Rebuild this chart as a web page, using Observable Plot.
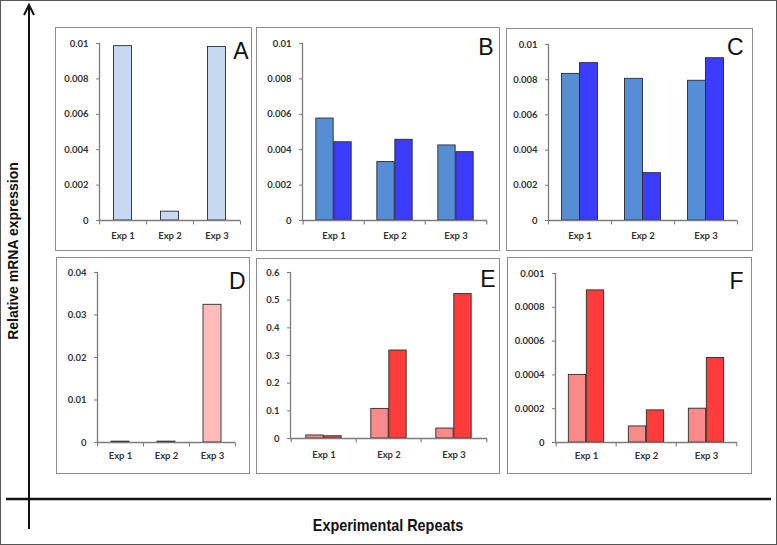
<!DOCTYPE html>
<html>
<head>
<meta charset="utf-8">
<script src="https://cdn.jsdelivr.net/npm/d3@7"></script>
<script src="https://cdn.jsdelivr.net/npm/@observablehq/plot@0.6"></script>
<style>
  html, body { margin: 0; padding: 0; background: #fff; }
  #page { position: relative; width: 777px; height: 545px; box-sizing: border-box; border: 1px solid #555; background: #fff; overflow: hidden; }
  .panel { position: absolute; }
  .panel svg { display: block; }
  g[aria-label="y-axis tick label"], g[aria-label="x-axis tick label"] { fill: #333; }
</style>
</head>
<body>
<div id="page"></div>
<script>
// ---------- data ----------
const exps = ["Exp 1", "Exp 2", "Exp 3"];

const aValues   = [0.00985, 0.0005, 0.0098];
const bSeries1  = [0.00576, 0.0033, 0.00424];
const bSeries2  = [0.00442, 0.00456, 0.00386];
const cSeries1  = [0.00833, 0.00805, 0.00794];
const cSeries2  = [0.00894, 0.00269, 0.00922];
const dValues   = [0.0002, 0.0002, 0.0324];
const eSeries1  = [0.011, 0.107, 0.036];
const eSeries2  = [0.008, 0.318, 0.522];
const fSeries1  = [0.0004, 0.000095, 0.0002];
const fSeries2  = [0.0009, 0.00019, 0.0005];

const ticksBlue = [0, 0.002, 0.004, 0.006, 0.008, 0.01];
const ticksD    = [0, 0.01, 0.02, 0.03, 0.04];
const ticksE    = [0, 0.1, 0.2, 0.3, 0.4, 0.5, 0.6];
const ticksF    = [0, 0.0002, 0.0004, 0.0006, 0.0008, 0.001];

const panelLetters = ["A", "B", "C", "D", "E", "F"];
const yTitle = "Relative mRNA expression";
const xTitle = "Experimental Repeats";

// ---------- colours ----------
const lightBlue = "#c6d9f1", steelBlue = "#558ed5", brightBlue = "#3c3cff";
const pink = "#ffbcbc", salmon = "#fb8a8a", red = "#ff3c3c";

// ---------- layout ----------
const panels = [
  {letter: panelLetters[0], box: {x: 56, y: 28, w: 195, h: 222}, m: {l: 43, r: 11, t: 15, b: 30}, max: 0.01, ticks: ticksBlue,
   series: [{values: aValues, fill: lightBlue}], pad: 12, ldx: 8, ldy: -1},
  {letter: panelLetters[1], box: {x: 257, y: 28, w: 242, h: 222}, m: {l: 45, r: 12, t: 15, b: 30}, max: 0.01, ticks: ticksBlue,
   series: [{values: bSeries1, fill: steelBlue}, {values: bSeries2, fill: brightBlue}], pad: 12, ldx: 6, ldy: -5},
  {letter: panelLetters[2], box: {x: 507, y: 29, w: 245, h: 221}, m: {l: 41, r: 15, t: 15, b: 30}, max: 0.01, ticks: ticksBlue,
   series: [{values: cSeries1, fill: steelBlue}, {values: cSeries2, fill: brightBlue}], pad: 12, ldx: 6, ldy: -6},
  {letter: panelLetters[3], box: {x: 57, y: 258, w: 192, h: 215}, m: {l: 40, r: 14, t: 14, b: 31}, max: 0.04, ticks: ticksD,
   series: [{values: dValues, fill: pink}], pad: 10, ldx: 10, ldy: 0},
  {letter: panelLetters[4], box: {x: 257, y: 259, w: 242, h: 214}, m: {l: 33, r: 12, t: 13, b: 35}, max: 0.6, ticks: ticksE,
   series: [{values: eSeries1, fill: salmon}, {values: eSeries2, fill: red}], pad: 13, ldx: 8, ldy: -2},
  {letter: panelLetters[5], box: {x: 508, y: 258, w: 243, h: 215}, m: {l: 47, r: 14, t: 15, b: 31}, max: 0.001, ticks: ticksF,
   series: [{values: fSeries1, fill: salmon}, {values: fSeries2, fill: red}], pad: 10, ldx: 6, ldy: -1}
];

const page = document.getElementById("page");
const BORDER = 1.5;
const axisGrey = "#7c7c7c";

// custom downward tick symbol for category boundaries
const downTick = {draw(ctx) { ctx.moveTo(0, 0); ctx.lineTo(0, 4); }};

function makePanel(p) {
  const {box, m} = p;
  const band = (box.w - m.l - m.r) / exps.length;
  const barW = 18;
  const n = p.series.length;
  const left0 = (band - n * barW) / 2;
  const barMarks = p.series.map((s, i) =>
    Plot.barY(exps.map((e, j) => ({exp: e, v: s.values[j]})), {
      x: "exp", y: "v", fill: s.fill, stroke: "#2a2a2a", strokeWidth: 0.9,
      insetLeft: left0 + i * barW, insetRight: band - left0 - (i + 1) * barW
    })
  );
  const svg = Plot.plot({
    width: box.w, height: box.h,
    marginLeft: m.l, marginRight: m.r, marginTop: m.t, marginBottom: m.b,
    style: {fontFamily: "Lato, 'Open Sans', sans-serif", fontSize: "9.5px", fontWeight: 700, color: axisGrey,
            background: "#fff", border: `${BORDER}px solid #8c8c8c`},
    x: {type: "band", domain: exps, padding: 0, tickSize: 0, tickPadding: p.pad, label: null},
    y: {domain: [0, p.max], ticks: p.ticks, tickFormat: d => String(d), tickSize: 3, tickPadding: 8, label: null},
    marks: [
      ...barMarks,
      Plot.ruleY([0], {stroke: axisGrey, strokeWidth: 1.3}),
      Plot.frame({anchor: "left", stroke: axisGrey, strokeWidth: 1.3}),
      Plot.dot(exps, {x: d => d, y: () => 0, symbol: downTick, stroke: axisGrey, strokeWidth: 1.1, dx: -band / 2, r: 3}),
      Plot.dot([exps[exps.length - 1]], {x: d => d, y: () => 0, symbol: downTick, stroke: axisGrey, strokeWidth: 1.1, dx: band / 2, r: 3}),
      Plot.text([p.letter], {text: d => d, frameAnchor: "top-right", textAnchor: "end", lineAnchor: "top",
        dx: p.ldx, dy: p.ldy, fontSize: 23, fontWeight: 400, fill: "#111",
        fontFamily: "'Liberation Sans', Arial, sans-serif"})
    ]
  });
  const div = document.createElement("div");
  div.className = "panel";
  div.style.left = (box.x - BORDER - 1) + "px";
  div.style.top = (box.y - BORDER - 1) + "px";
  div.appendChild(svg);
  page.appendChild(div);
}

// decorative axes (arrow + baseline) and titles
const ns = "http://www.w3.org/2000/svg";
const deco = document.createElementNS(ns, "svg");
deco.setAttribute("width", 775); deco.setAttribute("height", 543);
deco.style.position = "absolute"; deco.style.left = "0px"; deco.style.top = "0px";
deco.innerHTML = `
  <line x1="28" y1="5" x2="28" y2="528" stroke="#111" stroke-width="2"/>
  <polyline points="23,14 28,4 33,14" fill="none" stroke="#111" stroke-width="2"/>
  <line x1="5" y1="498" x2="770" y2="498" stroke="#111" stroke-width="2.5"/>
  <text transform="translate(12,250) rotate(-90)" text-anchor="middle" dominant-baseline="central"
    font-family="'Liberation Sans', Arial, sans-serif" font-weight="700" font-size="14" fill="#111">${yTitle}</text>
  <text transform="translate(387,524) scale(0.9,1)" text-anchor="middle" dominant-baseline="central"
    font-family="'Liberation Sans', Arial, sans-serif"
    font-weight="700" font-size="16" fill="#111">${xTitle}</text>`;
page.appendChild(deco);

panels.forEach(makePanel);
</script>
</body>
</html>
